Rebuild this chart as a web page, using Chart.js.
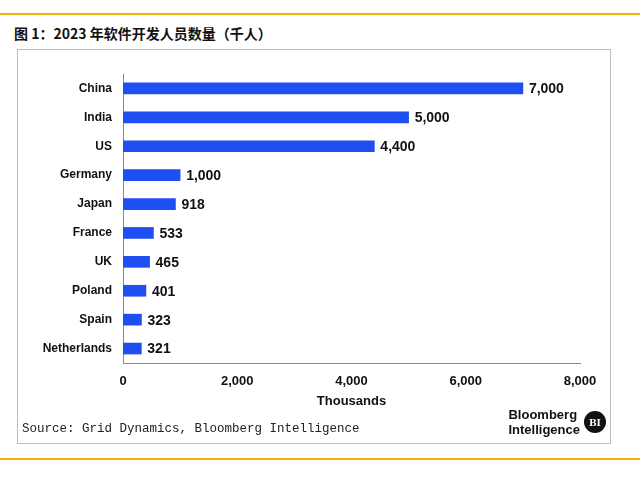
<!DOCTYPE html>
<html><head><meta charset="utf-8">
<script src="https://cdn.jsdelivr.net/npm/chart.js@4"></script>
<style>
body{margin:0;width:640px;height:478px;background:#fff;position:relative;font-family:"Noto Sans CJK SC",sans-serif;overflow:hidden}
.line{position:absolute;left:0;width:640px;height:2px;background:#f0b400}
#title{position:absolute;left:14px;top:23px;font-size:14px;font-weight:bold;color:#111}
#box{position:absolute;left:17px;top:49px;width:592px;height:393px;border:1px solid #bdbdbd}
#c{position:absolute;left:0;top:0}
#src{position:absolute;left:4px;top:372px;font-family:"Liberation Mono","DejaVu Sans Mono",monospace;font-size:12.5px;color:#222}
#logo{position:absolute;right:30px;top:357px;font-family:Arial,"Liberation Sans",sans-serif;font-size:13px;font-weight:bold;line-height:15px;color:#111}
#bi{position:absolute;right:-26px;top:4px;width:22px;height:22px;border-radius:50%;background:#111;color:#fff;font-size:11px;font-weight:bold;text-align:center;line-height:22px;font-family:serif}
</style></head><body>
<div class="line" style="top:13px"></div>
<div id="title">图 1：2023 年软件开发人员数量（千人）</div>
<div id="box"><canvas id="c" width="592" height="393"></canvas>
<div id="src">Source: Grid Dynamics, Bloomberg Intelligence</div>
<div id="logo">Bloomberg<br>Intelligence<div id="bi">BI</div></div>
</div>
<div class="line" style="top:458px"></div>
<script>
const countries = ['China','India','US','Germany','Japan','France','UK','Poland','Spain','Netherlands'];
const developers = [7000,5000,4400,1000,918,533,465,401,323,321];

const valueLabels = {
  id: 'valueLabels',
  afterDatasetsDraw(chart) {
    const ctx = chart.ctx;
    const meta = chart.getDatasetMeta(0);
    ctx.save();
    ctx.font = 'bold 14px Arial, "Liberation Sans", sans-serif';
    ctx.fillStyle = '#111';
    ctx.textBaseline = 'middle';
    meta.data.forEach((bar, i) => {
      ctx.fillText(developers[i].toLocaleString('en-US'), bar.x + 6, bar.y + 1);
    });
    ctx.restore();
  }
};

new Chart(document.getElementById('c'), {
  type: 'bar',
  data: { labels: countries, datasets: [{ data: developers, backgroundColor: '#1f4ff0', barThickness: 11 }] },
  options: {
    indexAxis: 'y', responsive: false, animation: false,
    layout: { padding: { top: 24, right: 30, bottom: 30, left: 0 } },
    plugins: { legend: { display: false }, tooltip: { enabled: false } },
    scales: {
      x: {
        min: 0, max: 8000,
        ticks: { stepSize: 2000, color: '#111', font: { family: 'Arial, "Liberation Sans"', size: 13, weight: 'bold' }, callback: v => v.toLocaleString('en-US') },
        grid: { display: false, drawTicks: true },
        border: { color: '#888' },
        title: { display: true, text: 'Thousands', color: '#111', font: { family: 'Arial, "Liberation Sans"', size: 13, weight: 'bold' } },
        afterFit: s => { s.height = 50; }
      },
      y: {
        ticks: { color: '#111', font: { family: 'Arial, "Liberation Sans"', size: 12, weight: 'bold' } },
        grid: { display: false },
        border: { color: '#888' },
        afterFit: s => { s.width = 105; }
      }
    }
  },
  plugins: [valueLabels]
});
</script>
</body></html>
